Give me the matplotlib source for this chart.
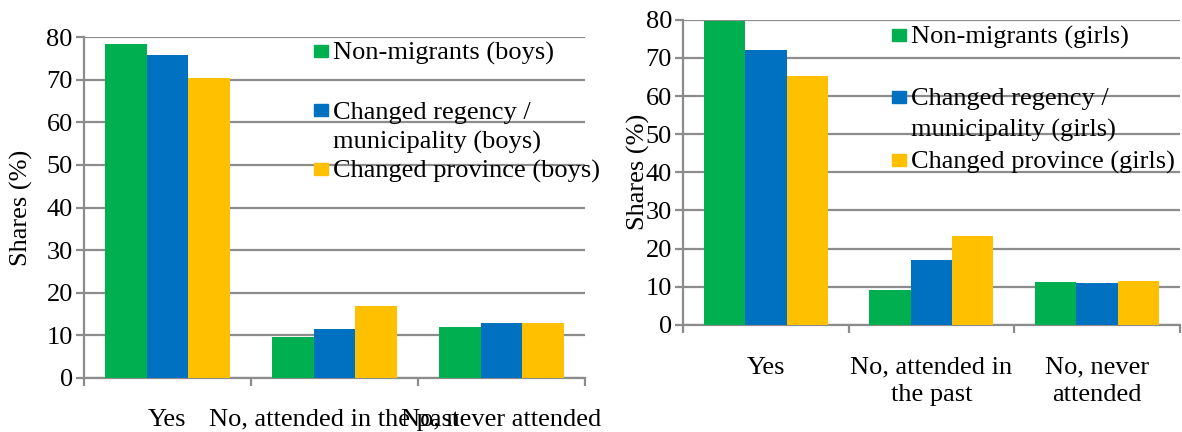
import matplotlib.pyplot as plt
import numpy as np
from matplotlib.patches import Rectangle

plt.rcParams['font.family'] = ['Liberation Serif', 'DejaVu Serif']

categories_boys = ["Yes", "No, attended in the past", "No, never attended"]
categories_girls = ["Yes", "No, attended in\nthe past", "No, never\nattended"]

boys_non = [78.5, 9.7, 12.0]
boys_regency = [75.8, 11.5, 12.8]
boys_province = [70.4, 16.9, 12.8]

girls_non = [79.6, 9.2, 11.3]
girls_regency = [72.1, 16.9, 11.1]
girls_province = [65.4, 23.2, 11.5]

labels_boys = ["Non-migrants (boys)", "Changed regency /\nmunicipality (boys)",
               "Changed province (boys)"]
labels_girls = ["Non-migrants (girls)", "Changed regency /\nmunicipality (girls)",
                "Changed province (girls)"]

colors = ["#00B050", "#0070C0", "#FFC000"]
grid_col = "#8c8c8c"
fs = 19
W, H = 1182, 432

fig = plt.figure(figsize=(W / 100, H / 100), dpi=100)
ax1 = fig.add_axes([0.071, 0.125, 0.424, 0.789])
ax2 = fig.add_axes([0.578, 0.248, 0.42, 0.706])


def legend_px(x_sq, y_lines, step, labels):
    # Excel style legend: square next to the first line of each label
    for lab, c, yy in zip(labels, colors, y_lines):
        fig.add_artist(Rectangle((x_sq / W, 1 - (yy + 6) / H), 14 / W, 12 / H,
                                 transform=fig.transFigure, color=c))
        for k, line in enumerate(lab.split("\n")):
            fig.text((x_sq + 19) / W, 1 - (yy + k * step) / H, line,
                     fontsize=fs, va="center_baseline", ha="left")


def draw(ax, series, cats, xpad):
    x = np.arange(len(cats))
    w = 0.25
    for i, (vals, c) in enumerate(zip(series, colors)):
        ax.bar(x + (i - 1) * w, vals, w, color=c, zorder=3)
    ax.set_xlim(-0.5, len(cats) - 0.5)
    ax.set_ylim(0, 80)
    ax.set_yticks(range(0, 81, 10))
    ax.yaxis.grid(True, color=grid_col, linewidth=1.6, zorder=0)
    for s in ["top", "right"]:
        ax.spines[s].set_visible(False)
    for s in ["left", "bottom"]:
        ax.spines[s].set_color(grid_col)
        ax.spines[s].set_linewidth(1.6)
    ax.set_xticks(x)
    ax.set_xticklabels(cats, fontsize=fs, linespacing=1.3)
    ax.set_xticks(np.arange(-0.5, len(cats)), minor=True)
    ax.tick_params(axis="x", which="major", length=0, pad=xpad)
    ax.tick_params(axis="x", which="minor", length=6, width=1.6, color=grid_col)
    ax.tick_params(axis="y", length=6, width=1.6, color=grid_col, labelsize=fs, pad=2)
    ax.set_ylabel("Shares (%)", fontsize=fs)


draw(ax1, [boys_non, boys_regency, boys_province], categories_boys, 22)
ax1.yaxis.set_label_coords(-0.102, 0.5)
legend_px(314, [51, 110, 169], 30, labels_boys)

draw(ax2, [girls_non, girls_regency, girls_province], categories_girls, 23)
ax2.yaxis.set_label_coords(-0.066, 0.5)
legend_px(892, [35, 97, 160], 31, labels_girls)

fig.savefig("out.png", dpi=100)
